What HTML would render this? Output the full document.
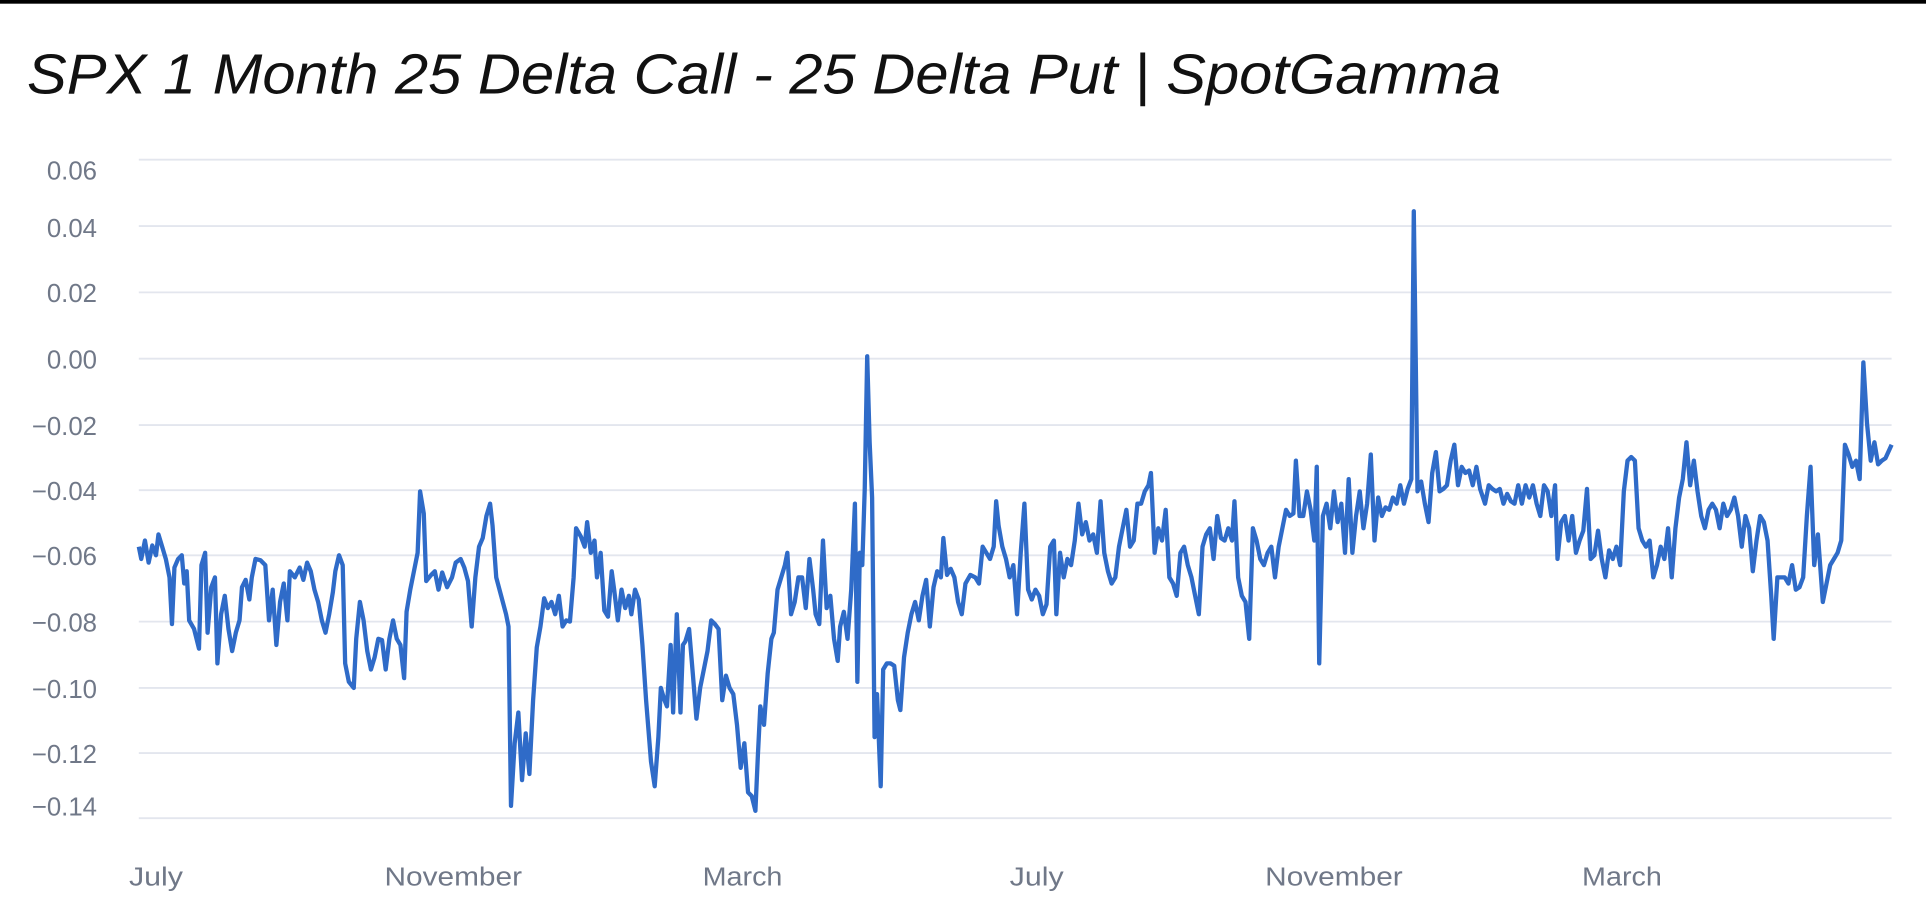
<!DOCTYPE html>
<html><head><meta charset="utf-8"><style>
html,body{margin:0;padding:0;background:#fff;width:1926px;height:914px;overflow:hidden}
svg{display:block}
</style></head><body>
<svg width="1926" height="914" viewBox="0 0 1568 744" preserveAspectRatio="none" xmlns="http://www.w3.org/2000/svg">
<rect x="0" y="0" width="1568" height="744" fill="#fff"/>
<rect x="0" y="0" width="1568" height="3" fill="#000"/>
<text x="22" y="76" font-family="Liberation Sans, sans-serif" font-style="italic" font-size="46" textLength="1200" lengthAdjust="spacingAndGlyphs" fill="#111">SPX 1 Month 25 Delta Call - 25 Delta Put | SpotGamma</text>
<g stroke="#e3e6ee" stroke-width="1.5">
<line x1="113" x2="1540" y1="130" y2="130"/><line x1="113" x2="1540" y1="184" y2="184"/>
<line x1="113" x2="1540" y1="238" y2="238"/><line x1="113" x2="1540" y1="292" y2="292"/>
<line x1="113" x2="1540" y1="346" y2="346"/><line x1="113" x2="1540" y1="399" y2="399"/>
<line x1="113" x2="1540" y1="452" y2="452"/><line x1="113" x2="1540" y1="506" y2="506"/>
<line x1="113" x2="1540" y1="560" y2="560"/><line x1="113" x2="1540" y1="613" y2="613"/>
<line x1="113" x2="1540" y1="666" y2="666"/>
</g>
<g font-family="Liberation Sans, sans-serif" font-size="21" fill="#707888" text-anchor="end">
<text x="79" y="146">0.06</text><text x="79" y="193">0.04</text><text x="79" y="246">0.02</text>
<text x="79" y="300">0.00</text><text x="79" y="354">−0.02</text><text x="79" y="407">−0.04</text>
<text x="79" y="460">−0.06</text><text x="79" y="514">−0.08</text><text x="79" y="568">−0.10</text>
<text x="79" y="621">−0.12</text><text x="79" y="664">−0.14</text>
</g>
<g font-family="Liberation Sans, sans-serif" font-size="21" fill="#707888">
<text x="105" y="721" textLength="44" lengthAdjust="spacingAndGlyphs">July</text>
<text x="313" y="721" textLength="112" lengthAdjust="spacingAndGlyphs">November</text>
<text x="572" y="721" textLength="65" lengthAdjust="spacingAndGlyphs">March</text>
<text x="822" y="721" textLength="44" lengthAdjust="spacingAndGlyphs">July</text>
<text x="1030" y="721" textLength="112" lengthAdjust="spacingAndGlyphs">November</text>
<text x="1288" y="721" textLength="65" lengthAdjust="spacingAndGlyphs">March</text>
</g>
<polyline fill="none" stroke="#2f6bc8" stroke-width="3.5" stroke-linejoin="round" points="113,445 115,455 118,440 121,458 124,444 127,452 129,435 132,445 135,455 138,470 140,508 142,462 145,455 148,452 150,475 152,465 154,505 158,512 162,528 164,460 167,450 169,515 172,478 175,470 177,540 180,500 183,485 186,512 189,530 192,515 195,505 197,478 200,472 203,488 205,470 208,455 212,456 216,460 219,505 222,480 225,525 228,490 231,475 234,505 236,465 240,470 244,462 247,472 250,458 253,465 256,480 259,490 262,505 265,515 268,500 271,482 273,465 276,452 279,460 281,540 284,555 288,560 290,520 293,490 296,505 299,530 302,545 305,535 308,520 311,521 314,545 317,520 320,505 323,520 326,525 329,552 331,498 334,480 337,465 340,450 342,400 345,418 347,473 351,468 354,465 357,480 360,466 364,478 368,470 371,458 375,455 378,462 381,473 384,510 387,470 390,445 393,438 396,420 399,410 401,428 404,470 408,485 412,500 414,510 416,656 419,605 422,580 425,635 428,597 431,630 434,570 437,527 440,510 443,487 446,495 449,490 452,500 455,485 458,510 461,505 464,506 467,470 469,430 473,437 476,445 478,425 481,450 484,440 486,470 489,450 492,497 495,502 498,465 500,480 503,505 506,480 509,495 512,485 514,500 517,480 520,488 523,525 526,570 530,620 533,640 536,600 538,560 541,570 543,575 546,525 548,580 551,500 554,580 556,525 558,522 561,512 564,548 567,585 570,560 573,545 576,530 579,505 582,508 585,512 588,570 591,550 594,560 597,565 600,590 603,625 606,605 609,645 612,648 615,660 617,615 619,575 622,590 625,548 628,520 630,515 633,480 636,470 639,460 641,450 644,500 647,490 650,470 653,470 656,495 659,455 662,480 664,500 667,508 670,440 673,495 676,485 679,520 682,538 684,510 687,498 690,520 693,480 696,410 698,555 700,450 702,460 704,398 706,290 708,360 710,405 712,600 714,565 717,640 719,545 722,540 725,540 728,542 731,570 733,578 736,535 739,515 742,500 745,490 748,505 751,485 754,472 757,510 760,478 763,465 766,470 768,438 771,468 774,463 777,470 780,490 783,500 786,475 790,468 794,470 797,475 800,445 803,450 806,455 809,445 811,408 813,428 816,445 819,455 822,470 825,460 828,500 831,450 834,410 837,480 840,488 843,480 846,485 849,500 852,492 855,445 858,440 860,500 863,450 866,470 869,455 872,460 875,440 878,410 881,435 884,425 887,440 890,435 893,450 896,408 899,450 902,465 905,475 908,470 911,445 914,430 917,415 920,445 923,440 926,410 929,410 932,400 935,395 937,385 940,450 943,430 946,440 949,415 952,470 955,475 958,485 961,450 964,445 967,460 970,470 973,485 976,500 979,445 982,435 985,430 988,455 991,420 994,438 997,440 1000,430 1003,440 1005,408 1008,470 1011,485 1014,490 1017,520 1020,430 1023,440 1026,455 1029,460 1032,450 1035,445 1038,470 1041,445 1044,430 1047,415 1050,420 1053,418 1055,375 1058,420 1061,420 1064,400 1067,415 1070,440 1072,380 1074,540 1077,420 1080,410 1083,430 1086,400 1089,425 1092,410 1095,450 1098,390 1101,450 1104,420 1107,400 1110,430 1113,410 1116,370 1119,440 1122,405 1125,420 1128,413 1131,415 1134,405 1137,410 1140,395 1143,410 1146,398 1149,390 1151,172 1154,400 1157,392 1160,410 1163,425 1166,385 1169,368 1172,400 1175,398 1178,395 1181,375 1184,362 1187,395 1190,380 1193,385 1196,383 1199,395 1202,380 1205,398 1209,410 1212,395 1215,398 1218,400 1221,398 1224,410 1227,402 1230,408 1233,410 1236,395 1239,410 1242,395 1245,405 1248,395 1251,410 1254,420 1257,395 1260,400 1263,420 1266,395 1268,455 1271,425 1274,420 1277,440 1280,420 1283,450 1286,440 1289,432 1292,398 1295,455 1298,452 1301,432 1304,455 1307,470 1310,448 1313,455 1316,445 1319,460 1322,400 1325,375 1328,372 1331,375 1334,430 1337,440 1340,445 1343,440 1346,470 1349,460 1352,445 1355,455 1358,430 1361,470 1364,430 1367,405 1370,390 1373,360 1376,395 1379,375 1382,400 1385,420 1388,430 1391,415 1394,410 1397,415 1400,430 1403,410 1406,420 1409,415 1412,405 1415,420 1418,445 1421,420 1424,430 1427,465 1430,440 1433,420 1436,425 1439,440 1442,485 1444,520 1447,470 1450,470 1453,470 1456,475 1459,460 1462,480 1465,478 1468,470 1471,420 1474,380 1477,460 1480,435 1484,490 1487,475 1490,460 1493,455 1496,450 1499,440 1502,362 1505,370 1508,380 1511,375 1514,390 1517,295 1520,345 1523,375 1526,360 1529,378 1532,375 1535,373 1540,362"/>
</svg>
</body></html>
